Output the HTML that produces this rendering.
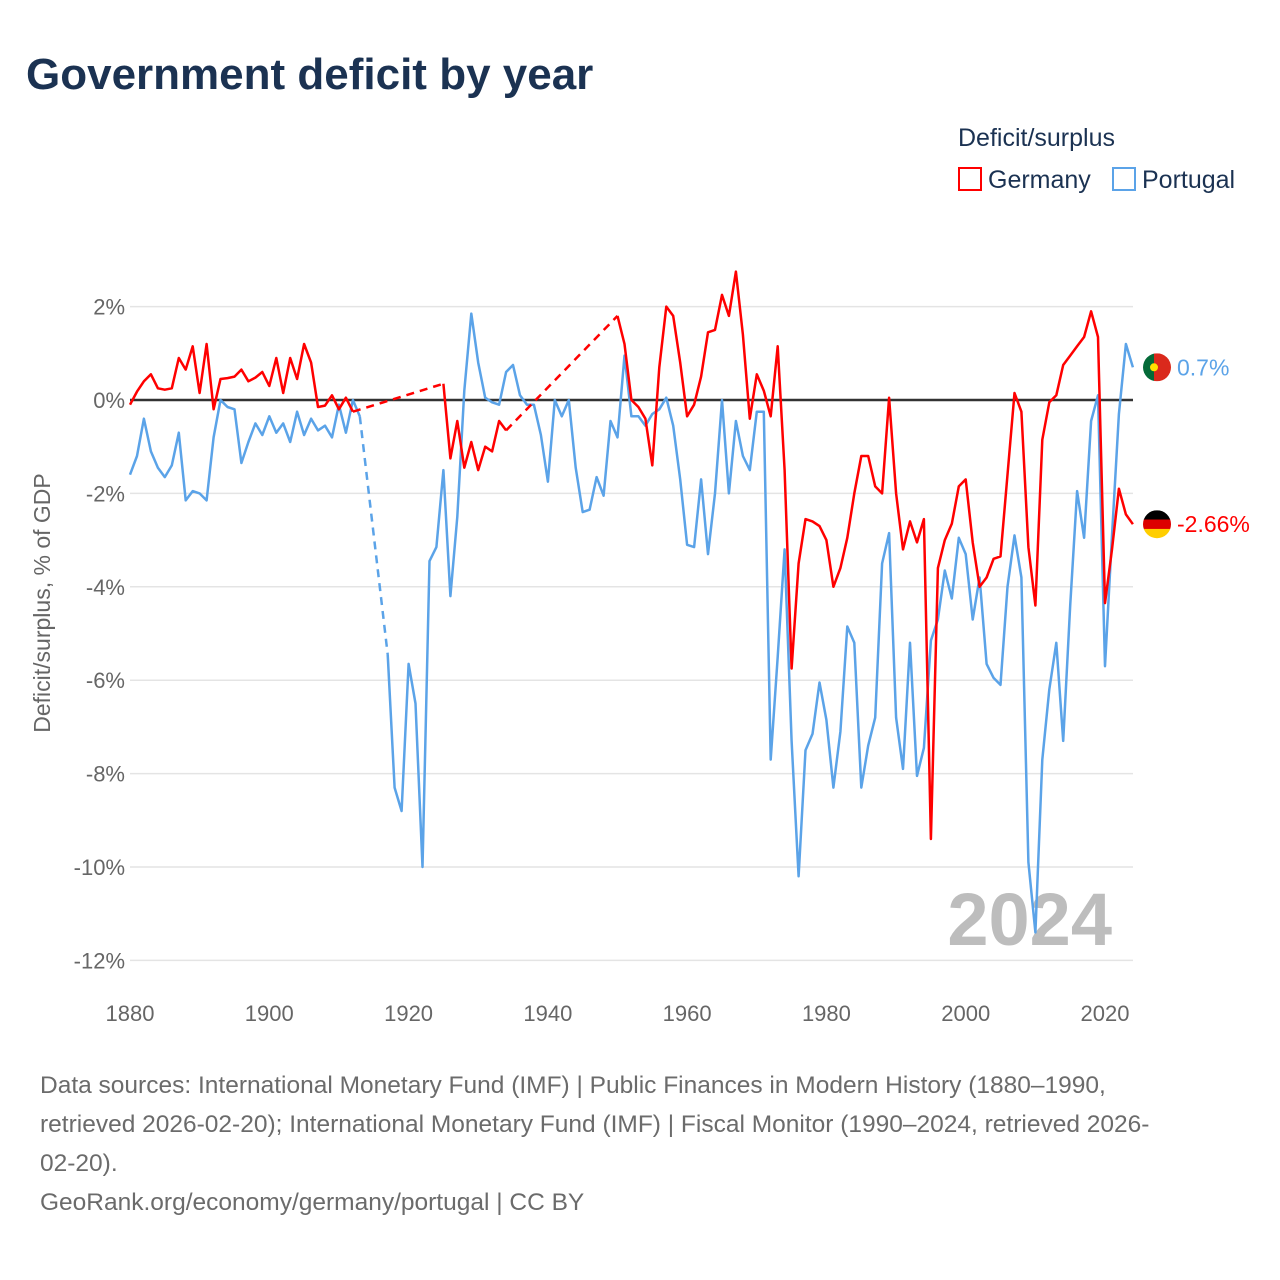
<!DOCTYPE html>
<html><head><meta charset="utf-8"><style>
body{margin:0;background:#fff;font-family:"Liberation Sans",sans-serif}
#wrap{position:relative;width:1280px;height:1280px;overflow:hidden}
.t{position:absolute;white-space:nowrap}
</style></head><body>
<div id="wrap">
<div class="t" style="left:26px;top:50px;font-size:44px;font-weight:bold;color:#1b3252">Government deficit by year</div>
<div class="t" style="left:958px;top:124px;font-size:25px;color:#1b3252">Deficit/surplus</div>
<div class="t" style="left:958px;top:166px;font-size:25px;color:#1b3252"><span style="display:inline-block;width:20px;height:20px;border:2px solid #f00;vertical-align:-3px;margin-right:6px"></span>Germany</div>
<div class="t" style="left:1112px;top:166px;font-size:25px;color:#1b3252"><span style="display:inline-block;width:20px;height:20px;border:2px solid #5ba3e8;vertical-align:-3px;margin-right:6px"></span>Portugal</div>
<svg id="chart" width="1280" height="1280" style="position:absolute;left:0;top:0" font-family="Liberation Sans, sans-serif"></svg>
<div class="t" style="left:40px;top:1066px;font-size:24.5px;line-height:39px;color:#6b6b6b">Data sources: International Monetary Fund (IMF) | Public Finances in Modern History (1880–1990,<br>retrieved 2026-02-20); International Monetary Fund (IMF) | Fiscal Monitor (1990–2024, retrieved 2026-<br>02-20).<br>GeoRank.org/economy/germany/portugal | CC BY</div>
</div>
<script>
const years=[];for(let y=1880;y<=2024;y++)years.push(y);
const N=null;
const germany=[-0.1,0.18,0.4,0.55,0.25,0.22,0.25,0.9,0.65,1.15,0.15,1.2,-0.2,0.45,0.47,0.5,0.65,0.4,0.48,0.6,0.3,0.9,0.15,0.9,0.45,1.2,0.8,-0.15,-0.12,0.1,-0.2,0.05,-0.25,
N,N,N,N,N,N,N,N,N,N,N,N,0.35,-1.25,-0.45,-1.45,-0.9,-1.5,-1.0,-1.1,-0.45,-0.65,
N,N,N,N,N,N,N,N,N,N,N,N,N,N,N,1.8,1.2,0.0,-0.15,-0.4,-1.4,0.7,2.0,1.8,0.8,-0.35,-0.1,0.5,1.45,1.5,2.25,1.8,2.75,1.4,-0.4,0.55,0.2,-0.35,1.15,-1.5,-5.75,-3.5,-2.55,-2.6,-2.7,-3.0,-4.0,-3.6,-2.95,-2.0,-1.2,-1.2,-1.85,-2.0,0.05,-2.0,-3.2,-2.6,-3.05,-2.55,-9.4,-3.6,-3.0,-2.65,-1.85,-1.7,-3.05,-4.0,-3.8,-3.4,-3.35,-1.6,0.15,-0.25,-3.15,-4.4,-0.85,-0.05,0.1,0.75,0.95,1.15,1.35,1.9,1.35,-4.35,-3.2,-1.9,-2.45,-2.66];
const portugal=[-1.6,-1.2,-0.4,-1.1,-1.45,-1.65,-1.4,-0.7,-2.15,-1.95,-2.0,-2.15,-0.8,0.0,-0.15,-0.2,-1.35,-0.9,-0.5,-0.75,-0.35,-0.7,-0.5,-0.9,-0.25,-0.75,-0.4,-0.65,-0.55,-0.8,-0.1,-0.7,0.0,-0.35,
N,N,N,-5.45,-8.3,-8.8,-5.65,-6.5,-10.0,-3.45,-3.15,-1.5,-4.2,-2.5,0.2,1.85,0.8,0.05,-0.05,-0.1,0.6,0.75,0.1,-0.1,-0.1,-0.75,-1.75,0.0,-0.35,0.0,-1.45,-2.4,-2.35,-1.65,-2.05,-0.45,-0.8,0.95,-0.35,-0.35,-0.55,-0.3,-0.2,0.05,-0.55,-1.7,-3.1,-3.15,-1.7,-3.3,-2.0,0.0,-2.0,-0.45,-1.2,-1.5,-0.25,-0.25,-7.7,-5.5,-3.2,-7.3,-10.2,-7.5,-7.15,-6.05,-6.85,-8.3,-7.1,-4.85,-5.2,-8.3,-7.4,-6.8,-3.5,-2.85,-6.8,-7.9,-5.2,-8.05,-7.45,-5.15,-4.7,-3.65,-4.25,-2.95,-3.3,-4.7,-3.8,-5.65,-5.95,-6.1,-4.0,-2.9,-3.8,-9.9,-11.4,-7.7,-6.2,-5.2,-7.3,-4.4,-1.95,-2.95,-0.45,0.1,-5.7,-2.9,-0.3,1.2,0.7];
const yTicks=[2,0,-2,-4,-6,-8,-10,-12];
const xTicks=[1880,1900,1920,1940,1960,1980,2000,2020];
const X=y=>130+(y-1880)*975/140;
const Y=v=>400-v*46.7;
const svg=document.getElementById('chart');const NS='http://www.w3.org/2000/svg';
function mk(t,a){const e=document.createElementNS(NS,t);for(const k in a)e.setAttribute(k,a[k]);svg.appendChild(e);return e;}
yTicks.forEach(v=>{
 const l=mk('line',{x1:130,x2:1133,y1:Y(v),y2:Y(v),stroke:v===0?'#333':'#e4e4e4','stroke-width':v===0?2.5:1.5});
 
 
 const t=mk('text',{x:125,y:Y(v)+8,'text-anchor':'end','font-size':22,fill:'#666'});t.textContent=v+'%';
 
 
});
xTicks.forEach(v=>{
 const t=mk('text',{x:X(v),y:1021,'text-anchor':'middle','font-size':22,fill:'#666'});t.textContent=v;
 
 
});
const yl=mk('text',{x:0,y:0,transform:'translate(50,603) rotate(-90)','text-anchor':'middle','font-size':23,fill:'#666'});yl.textContent='Deficit/surplus, % of GDP';


const yr=mk('text',{x:1112,y:945,'text-anchor':'end','font-size':74,'font-weight':'bold',fill:'#bdbdbd'});yr.textContent='2024';


function series(arr,color,name){
 let solid='',dash='',last=null,prevIdx=-2;
 arr.forEach((v,i)=>{if(v===null)return;const p=X(years[i]).toFixed(1)+','+Y(v).toFixed(1);
  if(last&&prevIdx===i-1)solid+=' L'+p;else{if(last)dash+=' M'+last+' L'+p;solid+=' M'+p;}
  last=p;prevIdx=i;});
 const a=mk('path',{d:solid,fill:'none',stroke:color,'stroke-width':2.5,'stroke-linejoin':'round'});
 
 
 const b=mk('path',{d:dash,fill:'none',stroke:color,'stroke-width':2.5,'stroke-dasharray':'8,6'});
 
 
}
series(portugal,'#5ba3e8','portugal');
series(germany,'#ff0000','germany');
const pv=portugal[portugal.length-1],gv=germany[germany.length-1];
const fp=mk('g',{});
fp.innerHTML=`<clipPath id="cp"><circle cx="1157" cy="${Y(pv)}" r="14"/></clipPath><g clip-path="url(#cp)"><rect x="1143" y="${Y(pv)-14}" width="11" height="28" fill="#046a38"/><rect x="1154" y="${Y(pv)-14}" width="17" height="28" fill="#da291c"/><circle cx="1154" cy="${Y(pv)}" r="4" fill="#ffe000"/></g>`;
const fg=mk('g',{});
fg.innerHTML=`<clipPath id="cg"><circle cx="1157" cy="${Y(gv)}" r="14"/></clipPath><g clip-path="url(#cg)"><rect x="1143" y="${Y(gv)-14}" width="28" height="10" fill="#000"/><rect x="1143" y="${Y(gv)-4.7}" width="28" height="10" fill="#dd0000"/><rect x="1143" y="${Y(gv)+4.7}" width="28" height="10" fill="#ffce00"/></g>`;
const lp=mk('text',{x:1177,y:Y(pv)+8,'font-size':23,fill:'#5ba3e8'});lp.textContent=pv+'%';


const lg=mk('text',{x:1177,y:Y(gv)+8,'font-size':23,fill:'#ff0000'});lg.textContent=gv+'%';


</script>
</body></html>
